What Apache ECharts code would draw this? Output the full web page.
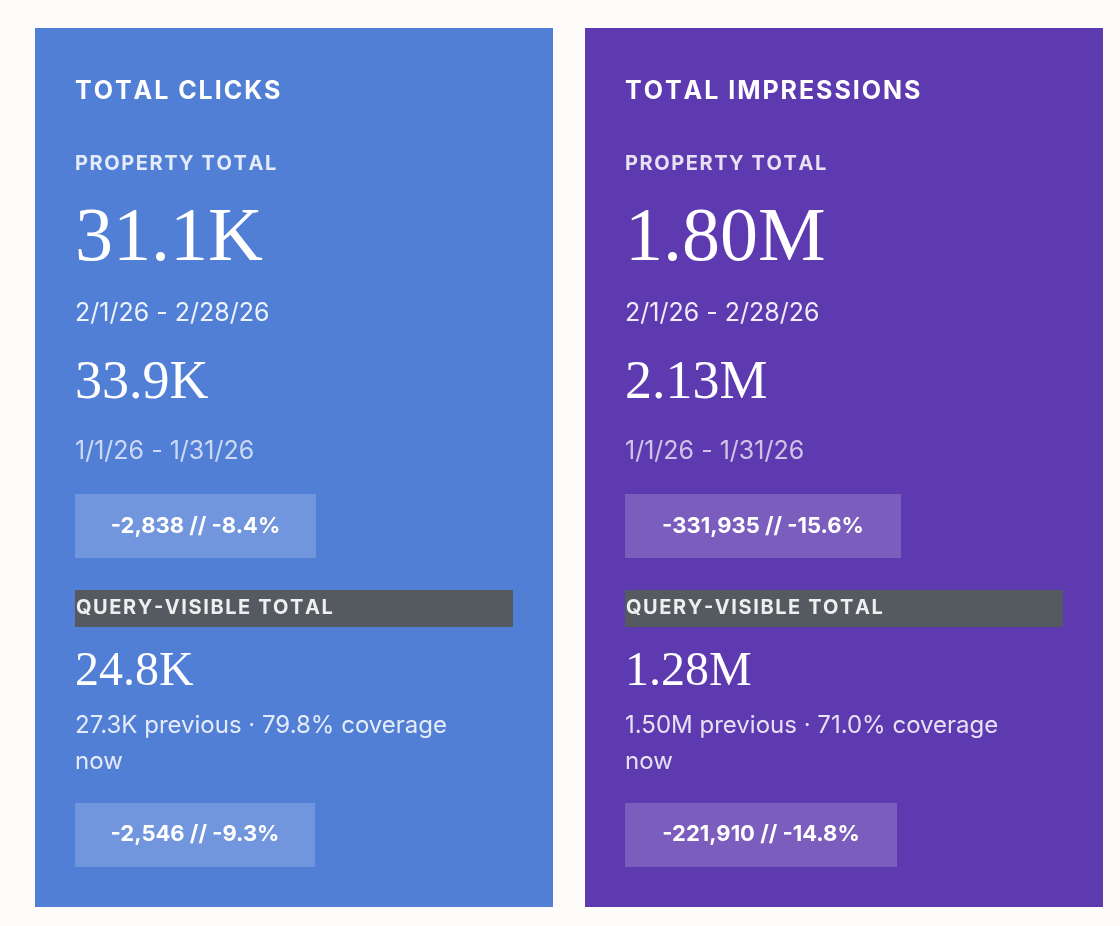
<!DOCTYPE html>
<html>
<head>
<meta charset="UTF-8">
<title>Totals</title>
<script src="https://cdn.jsdelivr.net/npm/echarts@6/dist/echarts.min.js"></script>
<style>
  html, body { margin: 0; padding: 0; background: #fdfcfa; }
  #chart { width: 1120px; height: 926px; }
</style>
</head>
<body>
<div id="chart"></div>
<script>
var cardTitles = ['TOTAL CLICKS', 'TOTAL IMPRESSIONS'];
var currentTotals = ['31.1K', '1.80M'];
var previousTotals = ['33.9K', '2.13M'];
var currentRange = '2/1/26 - 2/28/26';
var previousRange = '1/1/26 - 1/31/26';
var propertyDeltas = ['-2,838 // -8.4%', '-331,935 // -15.6%'];
var queryTotals = ['24.8K', '1.28M'];
var queryPrevious = ['27.3K', '1.50M'];
var queryCoverage = ['79.8%', '71.0%'];
var queryDeltas = ['-2,546 // -9.3%', '-221,910 // -14.8%'];

var cardColors = ['#527fd6', '#5e3ab0'];
var sans = '"Inter", "Lato", sans-serif';
var serif = '"Liberation Serif", serif';

var chart = echarts.init(document.getElementById('chart'));
var els = [];

function txt(x, y, s, size, weight, color, family, extra) {
  var st = { text: s, x: x, y: y, fill: color, font: weight + ' ' + size + 'px ' + family, textVerticalAlign: 'middle' };
  if (extra) for (var k in extra) st[k] = extra[k];
  els.push({ type: 'text', style: st, z: 10 });
}

cardTitles.forEach(function (title, i) {
  var x0 = i === 0 ? 35 : 585;
  var lx = x0 + 40;
  els.push({ type: 'rect', shape: { x: x0, y: 28, width: 518, height: 879 }, style: { fill: cardColors[i] } });
  txt(lx, 91, title.split('').join('\u200a'), 25, 'bold', '#ffffff', sans);
  txt(lx, 164, 'PROPERTY TOTAL'.split('').join('\u200a'), 20, 'bold', 'rgba(255,255,255,0.85)', sans);
  txt(lx, 240, currentTotals[i], 76, 'normal', '#ffffff', serif);
  txt(lx, 313, currentRange, 25, 'normal', 'rgba(255,255,255,0.9)', sans);
  txt(lx, 384, previousTotals[i], 54, 'normal', '#ffffff', serif);
  txt(lx, 451, previousRange, 25, 'normal', 'rgba(255,255,255,0.7)', sans);
  var w1 = i === 0 ? 241 : 276;
  els.push({ type: 'rect', shape: { x: lx, y: 494, width: w1, height: 64 }, style: { fill: 'rgba(255,255,255,0.18)' } });
  txt(lx + w1 / 2, 526, propertyDeltas[i], 22, 'bold', '#ffffff', sans, { textAlign: 'center' });
  els.push({ type: 'rect', shape: { x: lx, y: 590, width: 438, height: 37 }, style: { fill: '#555960' } });
  txt(lx + 1, 608, 'QUERY-VISIBLE TOTAL'.split('').join('\u200a'), 20, 'bold', 'rgba(255,255,255,0.9)', sans);
  txt(lx, 672, queryTotals[i], 48, 'normal', '#ffffff', serif);
  txt(lx, 726, queryPrevious[i] + ' previous \u00b7 ' + queryCoverage[i] + ' coverage', 24, 'normal', 'rgba(255,255,255,0.85)', sans);
  txt(lx, 762, 'now', 24, 'normal', 'rgba(255,255,255,0.85)', sans);
  var w2 = i === 0 ? 240 : 272;
  els.push({ type: 'rect', shape: { x: lx, y: 803, width: w2, height: 64 }, style: { fill: 'rgba(255,255,255,0.18)' } });
  txt(lx + w2 / 2, 834, queryDeltas[i], 22, 'bold', '#ffffff', sans, { textAlign: 'center' });
});

chart.setOption({ animation: false, graphic: { elements: els } });
</script>
</body>
</html>
